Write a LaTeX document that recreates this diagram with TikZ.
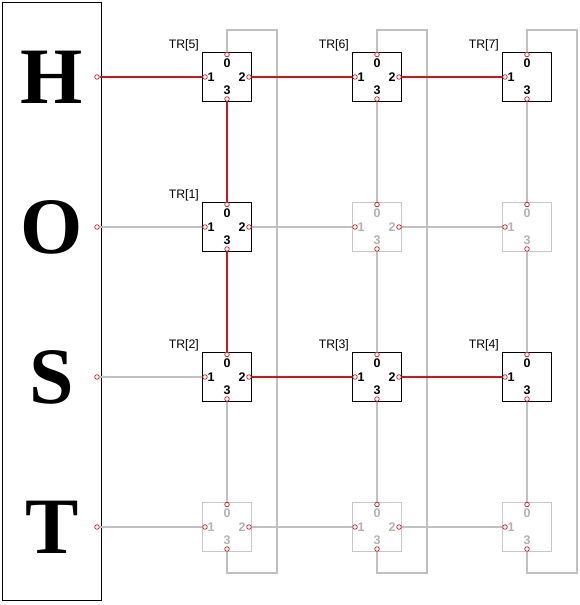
\documentclass[tikz,border=0pt]{standalone}
\usepackage{fontspec}
\setmainfont{Liberation Serif}
\setsansfont{Liberation Sans}
\definecolor{lnred}{RGB}{204,24,24}
\definecolor{lngray}{RGB}{192,192,192}
\definecolor{dimline}{RGB}{200,200,200}
\definecolor{dimtext}{RGB}{178,178,178}
\begin{document}
\begin{tikzpicture}[x=1pt,y=-1pt,
  trbox/.style={draw=black, line width=0.8pt, fill=white, minimum size=49pt, inner sep=0pt},
  dimbox/.style={trbox, draw=dimline},
  portdot/.style={circle, draw=lnred, fill=white, line width=0.7pt, inner sep=0pt, minimum size=4.6pt},
  digit/.style={font=\sffamily\bfseries\fontsize{12.5}{13}\selectfont, inner sep=0pt},
  dimdigit/.style={digit, text=dimtext},
  trlabel/.style={font=\sffamily\fontsize{12.3}{13}\selectfont, anchor=base east, inner sep=0pt},
  act/.style={draw=lnred, line width=2.1pt},
  idle/.style={draw=lngray, line width=2pt},
  hostletter/.style={font=\bfseries\fontsize{80}{80}\selectfont, inner sep=0pt},
  hostbox/.style={draw=black, line width=0.8pt, minimum width=99.5pt, minimum height=598pt, inner sep=0pt}
]
\useasboundingbox (0,0) rectangle (580,605);

% host
\node[hostbox] (host) at (51.75,301) {};
\node[hostletter] (lH) at (52,77) {H};
\node[hostletter] (lO) at (52,227) {O};
\node[hostletter] (lS) at (52,377) {S};
\node[hostletter] (lT) at (52,527) {T};
\foreach \r/\y in {0/77,1/227,2/377,3/527}
  \node[portdot] (h\r) at (97,\y) {};

% boxes
\foreach \n/\x/\y/\bs/\ds/\two in {
  00/227/77/trbox/digit/1, 01/377/77/trbox/digit/1, 02/527/77/trbox/digit/0,
  10/227/227/trbox/digit/1, 11/377/227/dimbox/dimdigit/1, 12/527/227/dimbox/dimdigit/0,
  20/227/377/trbox/digit/1, 21/377/377/trbox/digit/1, 22/527/377/trbox/digit/0,
  30/227/527/dimbox/dimdigit/1, 31/377/527/dimbox/dimdigit/1, 32/527/527/dimbox/dimdigit/0}{
  \node[\bs] (b\n) at (\x,\y) {};
  \node[\ds] (l\n-0) at (\x,\y-13.5) {0};
  \node[\ds] (l\n-1) at (\x-16,\y) {1};
  \node[\ds] (l\n-3) at (\x,\y+13) {3};
  \node[portdot] (p\n-0) at (\x,\y-22.5) {};
  \node[portdot] (p\n-1) at (\x-22,\y) {};
  \node[portdot] (p\n-3) at (\x,\y+22) {};
  \ifnum\two=1
    \node[\ds] (l\n-2) at (\x+15,\y) {2};
    \node[portdot] (p\n-2) at (\x+22,\y) {};
  \fi
}

% TR labels
\node[trlabel] (t5) at ([xshift=-3pt,yshift=3.5pt]b00.north west) {TR[5]};
\node[trlabel] (t6) at ([xshift=-3pt,yshift=3.5pt]b01.north west) {TR[6]};
\node[trlabel] (t7) at ([xshift=-3pt,yshift=3.5pt]b02.north west) {TR[7]};
\node[trlabel] (t1) at ([xshift=-3pt,yshift=3.5pt]b10.north west) {TR[1]};
\node[trlabel] (t2) at ([xshift=-3pt,yshift=3.5pt]b20.north west) {TR[2]};
\node[trlabel] (t3) at ([xshift=-3pt,yshift=3.5pt]b21.north west) {TR[3]};
\node[trlabel] (t4) at ([xshift=-3pt,yshift=3.5pt]b22.north west) {TR[4]};

% wrap-around corners
\foreach \c/\x in {0/227,1/377,2/527}{
  \coordinate (wt\c) at (\x+50,30);
  \coordinate (wb\c) at (\x+50,573);
}

% idle (gray) links
\foreach \c in {0,1,2}
  \draw[idle] (p0\c-0) |- (wt\c) -- (wb\c) -| (p3\c-3);
\draw[idle] (h1) -- (p10-1);
\draw[idle] (h2) -- (p20-1);
\draw[idle] (h3) -- (p30-1);
\draw[idle] (p10-2) -- (p11-1);
\draw[idle] (p11-2) -- (p12-1);
\draw[idle] (p30-2) -- (p31-1);
\draw[idle] (p31-2) -- (p32-1);
\draw[idle] (p20-3) -- (p30-0);
\foreach \c in {1,2}{
  \draw[idle] (p0\c-3) -- (p1\c-0);
  \draw[idle] (p1\c-3) -- (p2\c-0);
  \draw[idle] (p2\c-3) -- (p3\c-0);
}

% active (red) links
\draw[act] (h0) -- (p00-1);
\draw[act] (p00-2) -- (p01-1);
\draw[act] (p01-2) -- (p02-1);
\draw[act] (p00-3) -- (p10-0);
\draw[act] (p10-3) -- (p20-0);
\draw[act] (p20-2) -- (p21-1);
\draw[act] (p21-2) -- (p22-1);
\end{tikzpicture}
\end{document}
